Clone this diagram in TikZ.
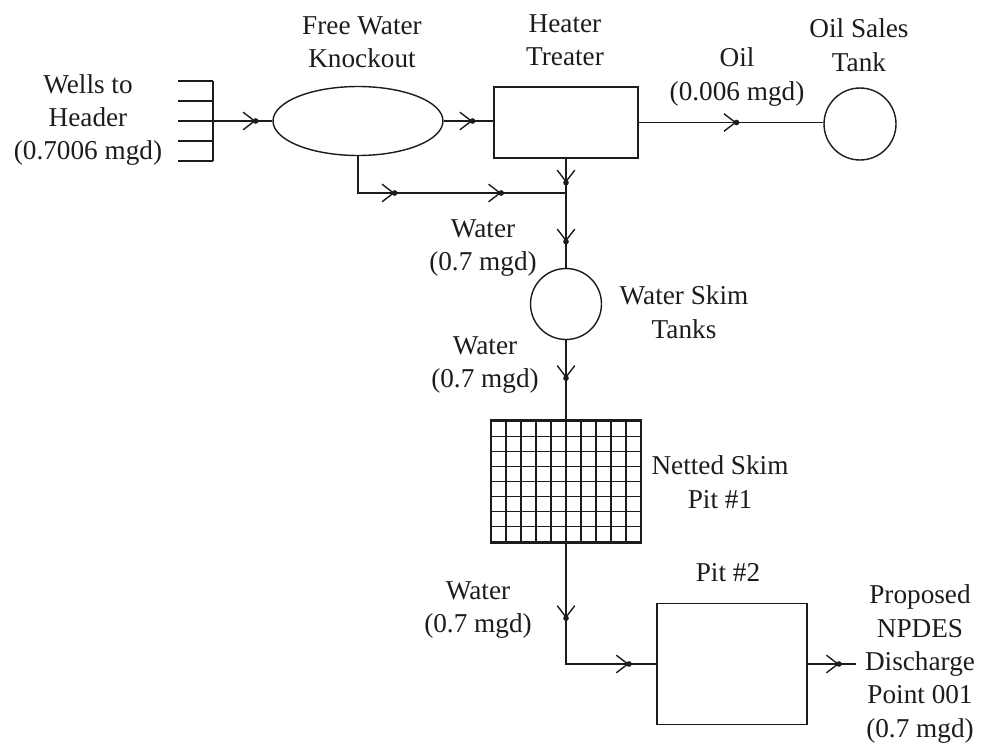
\documentclass[tikz,border=0pt]{standalone}
\usepackage{fontspec}
\setmainfont{Liberation Serif}
\usepackage{tikz}
\usetikzlibrary{arrows.meta, positioning, shapes.geometric, decorations.markings}
\definecolor{inkOne}{HTML}{1C1C1C}
\definecolor{inkTwo}{HTML}{3A3A3A}
\newcommand{\flowtip}{\arrow{Straight Barb[length=6.5pt, width=10pt, line width=0.8pt]}\fill[inkOne] (0,0) circle (1.6pt);}
\tikzset{
  lbl/.style={font=\fontsize{15.5}{19}\selectfont, text=inkOne, align=center, inner sep=0pt},
  unit/.style={draw=inkOne, line width=0.8pt, inner sep=0pt},
  pipe/.style={draw=inkOne, line width=0.8pt},
  flow/.style={postaction={decorate}, decoration={markings, mark=at position #1 with {\flowtip}}},
  flowtwo/.style 2 args={postaction={decorate},
    decoration={markings, mark=at position #1 with {\flowtip}, mark=at position #2 with {\flowtip}}},
}

\begin{document}
\begin{tikzpicture}[x=0.02cm, y=-0.02cm]
  \useasboundingbox (0,0) rectangle (987,747);
  % ---- wells, header and free water knockout
  \node[lbl] (wells) at (88,120) {Wells to\\Header\\(0.7006 mgd)};
  \coordinate (hdr) at (213,121);
  \draw[pipe] (213,81) -- (213,161);
  \foreach \y in {81,101,121,141,161}
    \draw[pipe] (178,\y) -- (213,\y);
  \node[unit, ellipse, minimum width=3.4cm, minimum height=1.38cm] (fwko) at (358,121) {};
  \node[lbl] (fwkolbl) at (362,42) {Free Water\\Knockout};
  % ---- heater treater and oil sales
  \node[unit, minimum width=2.88cm, minimum height=1.42cm] (ht) at (566,122.5) {};
  \node[lbl] (htlbl) at (565,40) {Heater\\Treater};
  \node[unit, circle, minimum size=1.44cm] (oil) at (860,124) {};
  \node[lbl] (oillbl) at (859,45) {Oil Sales\\Tank};
  \node[lbl] (oilq) at (737,77) {Oil\\(0.006 mgd)};
  % ---- water train
  \coordinate (jw) at (566,193);
  \node[unit, circle, minimum size=1.42cm] (skim) at (566,304) {};
  \node[lbl] (skimlbl) at (684,312) {Water Skim\\Tanks};
  \node[lbl] (wq1) at (483,248) {Water\\(0.7 mgd)};
  \node[lbl] (wq2) at (485,365) {Water\\(0.7 mgd)};
  \node[unit, minimum width=3cm, minimum height=2.46cm,
    path picture={\draw[inkOne, line width=0.7pt, step=0.3cm] (path picture bounding box.south west) grid (path picture bounding box.north east);}]
    (pit1) at (566,481.5) {};
  \node[lbl] (pit1lbl) at (720,482) {Netted Skim\\Pit \#1};
  \node[unit, minimum width=3cm, minimum height=2.42cm] (pit2) at (732,664) {};
  \node[lbl] (pit2lbl) at (728,573) {Pit \#2};
  \node[lbl] (wq3) at (478,610) {Water\\(0.7 mgd)};
  \node[lbl, inner xsep=5pt] (npdes) at (920,664) {Proposed\\NPDES\\Discharge\\Point 001\\(0.7 mgd)};
  % ---- connectors
  \draw[pipe, flow=0.72] (hdr) -- (fwko.west);
  \draw[pipe, flow=0.58] (fwko.east) -- (fwko.east -| ht.west);
  \draw[pipe, flow=0.53] (ht.east) -- (ht.east -| oil.west);
  \draw[pipe, flowtwo={0.30}{0.735}] (fwko.south) |- (jw);
  \draw[pipe, flowtwo={0.22}{0.76}] (ht.south) -- (skim.north);
  \draw[pipe, flow=0.48] (skim.south) -- (pit1.north);
  \draw[pipe, flowtwo={0.354}{0.87}] (pit1.south) |- (pit2.west);
  \draw[pipe, flow=0.65] (pit2.east) -- (npdes.west);
\end{tikzpicture}
\end{document}
